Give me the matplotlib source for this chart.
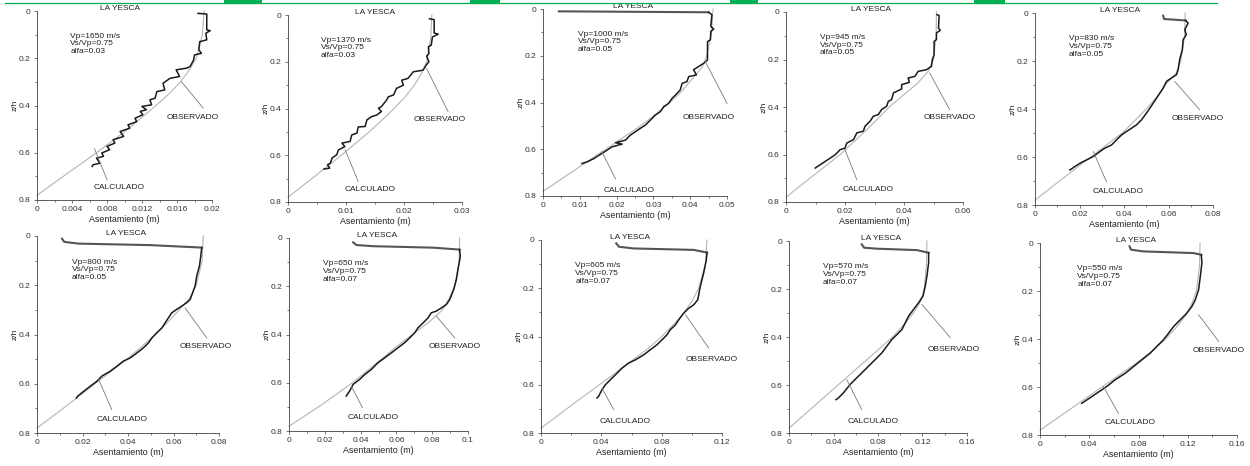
import matplotlib
matplotlib.use("Agg")
import matplotlib.pyplot as plt
from matplotlib.lines import Line2D
from matplotlib.ticker import MultipleLocator, FuncFormatter

plt.rcParams['font.family'] = ['Liberation Sans', 'DejaVu Sans']

# ---- data ----
vp = [1650, 1370, 1000, 945, 830, 800, 650, 605, 570, 550]
vs_vp = [0.75] * 10
alfa = [0.03, 0.03, 0.05, 0.05, 0.05, 0.05, 0.07, 0.07, 0.07, 0.07]
x_max = [0.02, 0.03, 0.05, 0.06, 0.08, 0.08, 0.1, 0.12, 0.16, 0.16]
x_major = [0.004, 0.01, 0.01, 0.02, 0.02, 0.02, 0.02, 0.04, 0.04, 0.04]
x_minor = [0.002, 0.005, 0.005, 0.01, 0.01, 0.01, 0.01, 0.02, 0.02, 0.02]

# calculated curves (z/h vs settlement)
calc_z = [0, 0.1, 0.2, 0.25, 0.3, 0.35, 0.4, 0.45, 0.5, 0.6, 0.7, 0.78]
calc_x1 = [0.0191, 0.0189, 0.0182, 0.0174, 0.0164, 0.0151, 0.0136, 0.0120, 0.0104, 0.0068, 0.0030, 0]
calc_x2 = [0.0248, 0.0246, 0.0239, 0.0230, 0.0218, 0.0202, 0.0183, 0.0162, 0.0140, 0.0092, 0.0041, 0]
calc_x3 = [0.0462, 0.0458, 0.0445, 0.0432, 0.0405, 0.0378, 0.0345, 0.0306, 0.0265, 0.0170, 0.0076, 0]
calc_x4 = [0.0510, 0.0509, 0.0500, 0.0482, 0.0446, 0.0398, 0.0350, 0.0311, 0.0270, 0.0184, 0.0081, 0]
calc_x5 = [0.0675, 0.0672, 0.0655, 0.0635, 0.0585, 0.0548, 0.0500, 0.0447, 0.0392, 0.0250, 0.0110, 0]
calc_x6 = [0.0731, 0.0726, 0.0700, 0.0672, 0.0625, 0.0575, 0.0520, 0.0459, 0.0395, 0.0255, 0.0115, 0]
calc_x7 = [0.0953, 0.0950, 0.0925, 0.0895, 0.0855, 0.0780, 0.0690, 0.0600, 0.0520, 0.0355, 0.0165, 0]
calc_x8 = [0.1100, 0.1090, 0.1045, 0.1005, 0.0950, 0.0880, 0.0800, 0.0711, 0.0603, 0.0387, 0.0170, 0]
calc_x9 = [0.1240, 0.1235, 0.1215, 0.1185, 0.1120, 0.1030, 0.0930, 0.0810, 0.0686, 0.0441, 0.0196, 0]
calc_x10 = [0.1300, 0.1295, 0.1270, 0.1235, 0.1185, 0.1110, 0.1020, 0.0910, 0.0784, 0.0504, 0.0224, 0]

# observed curves
obs_x1 = [0.0184, 0.0194, 0.0194, 0.0198, 0.0193, 0.0194, 0.0186, 0.0185, 0.0188, 0.0180,
          0.0179, 0.0175, 0.0171, 0.0159, 0.0163, 0.0152, 0.0144, 0.0146, 0.0137, 0.0135,
          0.0129, 0.0131, 0.0120, 0.0125, 0.0118, 0.0121, 0.0112, 0.0114, 0.0104, 0.0106,
          0.0095, 0.0099, 0.0087, 0.0089, 0.0080, 0.0083, 0.0074, 0.0076, 0.0068, 0.0072,
          0.0064, 0.0063]
obs_z1 = [0.010, 0.013, 0.080, 0.083, 0.094, 0.122, 0.130, 0.165, 0.179, 0.186,
          0.207, 0.235, 0.242, 0.249, 0.277, 0.285, 0.306, 0.334, 0.341, 0.369,
          0.376, 0.397, 0.404, 0.418, 0.425, 0.439, 0.454, 0.468, 0.482, 0.496,
          0.510, 0.531, 0.545, 0.559, 0.573, 0.587, 0.601, 0.615, 0.623, 0.644,
          0.651, 0.658]

obs_x2 = [0.0244, 0.0252, 0.0252, 0.0259, 0.0249, 0.0247, 0.0242, 0.0243, 0.0239, 0.0243,
          0.0238, 0.0233, 0.0216, 0.0207, 0.0196, 0.0199, 0.0187, 0.0182, 0.0173, 0.0170,
          0.0161, 0.0156, 0.0161, 0.0153, 0.0144, 0.0136, 0.0133, 0.0121, 0.0119, 0.0110,
          0.0107, 0.0093, 0.0098, 0.0087, 0.0084, 0.0076, 0.0073, 0.0068, 0.0072, 0.0062]
obs_z2 = [0.016, 0.020, 0.077, 0.082, 0.094, 0.129, 0.136, 0.165, 0.176, 0.200,
          0.215, 0.236, 0.243, 0.271, 0.279, 0.300, 0.314, 0.342, 0.350, 0.364,
          0.392, 0.399, 0.413, 0.428, 0.435, 0.449, 0.477, 0.479, 0.505, 0.513,
          0.541, 0.548, 0.563, 0.577, 0.598, 0.612, 0.634, 0.641, 0.655, 0.659]

obs_x3 = [0.0450, 0.0459, 0.0456, 0.0464, 0.0456, 0.0455, 0.0447, 0.0447, 0.0437, 0.0423,
          0.0409, 0.0417, 0.0396, 0.0391, 0.0378, 0.0373, 0.0360, 0.0351, 0.0341, 0.0328,
          0.0319, 0.0305, 0.0292, 0.0278, 0.0264, 0.0251, 0.0237, 0.0224, 0.0197, 0.0215,
          0.0187, 0.0174, 0.0160, 0.0138, 0.0120, 0.0106]
obs_z3 = [0.014, 0.024, 0.074, 0.086, 0.096, 0.132, 0.139, 0.218, 0.232, 0.246,
          0.260, 0.282, 0.289, 0.311, 0.318, 0.346, 0.368, 0.382, 0.404, 0.418,
          0.439, 0.454, 0.475, 0.497, 0.511, 0.525, 0.540, 0.561, 0.572, 0.578,
          0.590, 0.604, 0.618, 0.640, 0.654, 0.661]

obs_x4 = [0.0512, 0.0519, 0.0517, 0.0523, 0.0510, 0.0510, 0.0502, 0.0502, 0.0496, 0.0493,
          0.0476, 0.0448, 0.0437, 0.0414, 0.0418, 0.0392, 0.0392, 0.0364, 0.0358, 0.0347,
          0.0341, 0.0324, 0.0313, 0.0296, 0.0285, 0.0268, 0.0262, 0.0240, 0.0229, 0.0206,
          0.0200, 0.0183, 0.0167, 0.0150, 0.0133, 0.0116, 0.0099]
obs_z4 = [0.011, 0.015, 0.067, 0.077, 0.088, 0.116, 0.124, 0.180, 0.201, 0.229,
          0.243, 0.250, 0.271, 0.278, 0.296, 0.306, 0.324, 0.341, 0.369, 0.376,
          0.397, 0.411, 0.432, 0.439, 0.460, 0.481, 0.502, 0.509, 0.537, 0.552,
          0.573, 0.580, 0.601, 0.615, 0.629, 0.643, 0.657]

obs_x5 = [0.0677, 0.0688, 0.0673, 0.0680, 0.0666, 0.0662, 0.0650, 0.0643, 0.0636, 0.0613,
          0.0591, 0.0576, 0.0561, 0.0546, 0.0531, 0.0516, 0.0501, 0.0479, 0.0456, 0.0434,
          0.0411, 0.0389, 0.0366, 0.0344, 0.0314, 0.0292, 0.0262, 0.0232, 0.0202, 0.0179,
          0.0157]
obs_z5 = [0.031, 0.042, 0.070, 0.090, 0.111, 0.153, 0.195, 0.237, 0.257, 0.271,
          0.285, 0.313, 0.334, 0.355, 0.376, 0.397, 0.417, 0.445, 0.466, 0.480,
          0.494, 0.508, 0.529, 0.550, 0.563, 0.577, 0.598, 0.612, 0.626, 0.640,
          0.654]

obs_x6 = [0.0724, 0.0720, 0.0714, 0.0702, 0.0695, 0.0684, 0.0673, 0.0658, 0.0636, 0.0614,
          0.0592, 0.0578, 0.0563, 0.0549, 0.0527, 0.0505, 0.0490, 0.0468, 0.0439, 0.0410,
          0.0380, 0.0351, 0.0322, 0.0285, 0.0263, 0.0234, 0.0205, 0.0178, 0.0173]
obs_z6 = [0.047, 0.081, 0.122, 0.163, 0.203, 0.231, 0.258, 0.271, 0.285, 0.298,
          0.312, 0.332, 0.353, 0.373, 0.393, 0.414, 0.434, 0.454, 0.475, 0.495,
          0.508, 0.529, 0.549, 0.569, 0.590, 0.610, 0.631, 0.651, 0.658]

obs_x7 = [0.0953, 0.0957, 0.0944, 0.0935, 0.0920, 0.0898, 0.0879, 0.0851, 0.0823, 0.0795,
          0.0777, 0.0749, 0.0721, 0.0702, 0.0674, 0.0646, 0.0609, 0.0572, 0.0534, 0.0497,
          0.0460, 0.0423, 0.0395, 0.0358, 0.0339, 0.0320]
obs_z7 = [0.048, 0.076, 0.131, 0.172, 0.214, 0.255, 0.276, 0.290, 0.303, 0.310,
          0.331, 0.352, 0.372, 0.393, 0.414, 0.434, 0.455, 0.476, 0.497, 0.517,
          0.545, 0.566, 0.586, 0.607, 0.634, 0.655]

obs_x8 = [0.1101, 0.1096, 0.1078, 0.1056, 0.1039, 0.1012, 0.0979, 0.0946, 0.0913, 0.0891,
          0.0857, 0.0835, 0.0802, 0.0769, 0.0725, 0.0681, 0.0625, 0.0581, 0.0537, 0.0493,
          0.0460, 0.0427, 0.0404, 0.0382, 0.0371]
obs_z8 = [0.052, 0.083, 0.138, 0.193, 0.248, 0.269, 0.283, 0.303, 0.331, 0.352,
          0.372, 0.393, 0.414, 0.434, 0.455, 0.476, 0.497, 0.510, 0.531, 0.559,
          0.579, 0.600, 0.621, 0.648, 0.655]

obs_x9 = [0.1255, 0.1255, 0.1240, 0.1225, 0.1204, 0.1165, 0.1120, 0.1075, 0.1045, 0.1015,
          0.0970, 0.0925, 0.0880, 0.0835, 0.0775, 0.0714, 0.0654, 0.0594, 0.0549, 0.0489,
          0.0444, 0.0423]
obs_z9 = [0.049, 0.090, 0.146, 0.188, 0.230, 0.257, 0.285, 0.313, 0.341, 0.369,
          0.390, 0.410, 0.438, 0.466, 0.494, 0.522, 0.550, 0.577, 0.598, 0.633,
          0.654, 0.661]

obs_x10 = [0.1310, 0.1315, 0.1302, 0.1288, 0.1261, 0.1234, 0.1193, 0.1139, 0.1085, 0.1044,
           0.1003, 0.0949, 0.0895, 0.0827, 0.0759, 0.0692, 0.0610, 0.0542, 0.0461, 0.0380,
           0.0339]
obs_z10 = [0.049, 0.083, 0.139, 0.195, 0.237, 0.264, 0.292, 0.320, 0.348, 0.376,
           0.403, 0.431, 0.459, 0.487, 0.515, 0.543, 0.570, 0.598, 0.626, 0.654,
           0.668]

# hook at the top of the observed record (empty where there is none)
hook_x = [[], [], [0.0043, 0.0450], [], [0.0576, 0.0580, 0.0677],
          [0.0110, 0.0120, 0.0183, 0.0497, 0.0724],
          [0.0358, 0.0376, 0.0469, 0.0804, 0.0953],
          [0.0499, 0.0517, 0.0614, 0.1012, 0.1101],
          [0.0654, 0.0675, 0.0790, 0.1150, 0.1255],
          [0.0727, 0.0740, 0.0841, 0.1247, 0.1310]]
hook_z = [[], [], [0.010, 0.014], [], [0.011, 0.025, 0.031],
          [0.011, 0.024, 0.031, 0.037, 0.047],
          [0.018, 0.029, 0.034, 0.040, 0.048],
          [0.014, 0.028, 0.035, 0.041, 0.052],
          [0.014, 0.028, 0.032, 0.038, 0.049],
          [0.014, 0.028, 0.035, 0.042, 0.049]]

calc_x = [calc_x1, calc_x2, calc_x3, calc_x4, calc_x5, calc_x6, calc_x7, calc_x8, calc_x9, calc_x10]
obs_x = [obs_x1, obs_x2, obs_x3, obs_x4, obs_x5, obs_x6, obs_x7, obs_x8, obs_x9, obs_x10]
obs_z = [obs_z1, obs_z2, obs_z3, obs_z4, obs_z5, obs_z6, obs_z7, obs_z8, obs_z9, obs_z10]

# ---- layout: axes boxes in pixels (left, right, top, bottom) ----
boxes = [(37, 212, 11, 200), (288, 462, 15, 202), (543, 727, 9, 196), (786, 963, 12, 202),
         (1035, 1213, 13, 205), (37, 219, 236, 433), (289, 468, 238, 431), (541, 722, 240, 433),
         (789, 967, 241, 433), (1040, 1237, 243, 435)]
title_xf = [0.474, 0.5, 0.49, 0.48, 0.477, 0.49, 0.49, 0.49, 0.52, 0.49]

# leader lines and labels (data coords): start, end, text
obs_lead = [((0.0165, 0.299), (0.0190, 0.411), (0.0178, 0.449)),
            ((0.0239, 0.229), (0.0276, 0.413), (0.0262, 0.446)),
            ((0.0441, 0.225), (0.0500, 0.404), (0.0450, 0.464)),
            ((0.0487, 0.257), (0.0555, 0.411), (0.0555, 0.446)),
            ((0.0628, 0.285), (0.0740, 0.403), (0.0733, 0.441)),
            ((0.0651, 0.292), (0.0746, 0.414), (0.0742, 0.447)),
            ((0.0823, 0.324), (0.0926, 0.414), (0.0926, 0.448)),
            ((0.0958, 0.310), (0.1112, 0.448), (0.1134, 0.497)),
            ((0.1195, 0.264), (0.1450, 0.403), (0.1480, 0.452)),
            ((0.1288, 0.299), (0.1451, 0.410), (0.1451, 0.448))]
calc_lead = [((0.00657, 0.583), (0.0080, 0.714), (0.0094, 0.749)),
             ((0.00985, 0.577), (0.0121, 0.712), (0.0141, 0.747)),
             ((0.0160, 0.611), (0.0197, 0.726), (0.0233, 0.776)),
             ((0.0200, 0.580), (0.0240, 0.706), (0.0279, 0.748)),
             ((0.0262, 0.577), (0.0321, 0.703), (0.0374, 0.744)),
             ((0.0271, 0.583), (0.0329, 0.705), (0.0373, 0.746)),
             ((0.0348, 0.614), (0.0410, 0.703), (0.0469, 0.745)),
             ((0.0404, 0.614), (0.0482, 0.703), (0.0559, 0.752)),
             ((0.0519, 0.577), (0.0654, 0.703), (0.0753, 0.751)),
             ((0.0515, 0.598), (0.0637, 0.710), (0.0732, 0.749))]

W, H = 1250, 466
fig = plt.figure(figsize=(12.5, 4.66), dpi=100)
fs = 6.0
fmt = FuncFormatter(lambda v, p: f"{v:g}")

for i in range(10):
    l, r, t, b = boxes[i]
    ax = fig.add_axes([l / W, 1 - b / H, (r - l) / W, (b - t) / H])
    ax.set_xlim(0, x_max[i])
    ax.set_ylim(0.8, 0)
    for s in ['top', 'right']:
        ax.spines[s].set_visible(False)
    for s in ['left', 'bottom']:
        ax.spines[s].set_linewidth(0.6)
        ax.spines[s].set_color('#404040')
    ax.xaxis.set_major_locator(MultipleLocator(x_major[i]))
    ax.xaxis.set_minor_locator(MultipleLocator(x_minor[i]))
    ax.yaxis.set_major_locator(MultipleLocator(0.2))
    ax.yaxis.set_minor_locator(MultipleLocator(0.1))
    ax.xaxis.set_major_formatter(fmt)
    ax.yaxis.set_major_formatter(fmt)
    ax.tick_params(which='major', length=2.5, width=0.5, pad=2, labelsize=fs,
                   color='#404040', labelcolor='#333333')
    ax.tick_params(which='minor', length=1.5, width=0.5, color='#404040')
    ax.set_xlabel('Asentamiento (m)', fontsize=fs + 0.4, labelpad=1, color='#222222')
    ax.set_ylabel('z/h', fontsize=fs, labelpad=0.5, color='#222222')

    ax.plot(calc_x[i], calc_z, color='#b5b5b5', lw=0.8, clip_on=False)
    if hook_x[i]:
        ax.plot(hook_x[i], hook_z[i], color='#555555', lw=1.5, clip_on=False)
    ax.plot(obs_x[i], obs_z[i], color='#1a1a1a', lw=1.1, clip_on=False)

    for (p0, p1, pt), lab in [(obs_lead[i], 'OBSERVADO'), (calc_lead[i], 'CALCULADO')]:
        ax.plot([p0[0], p1[0]], [p0[1], p1[1]], color='#7a7a7a', lw=0.6, clip_on=False)
        ax.text(pt[0], pt[1], lab, fontsize=fs, ha='center', va='center', color='#222222')

    ax.annotate('LA YESCA', xy=(title_xf[i], 1), xycoords='axes fraction',
                xytext=(0, 1.5), textcoords='offset points',
                ha='center', va='center', fontsize=fs, color='#222222')
    ax.text(0.19, 0.885, f"Vp={vp[i]} m/s\nVs/Vp={vs_vp[i]}\nalfa={alfa[i]}",
            transform=ax.transAxes, fontsize=fs, va='top', ha='left',
            linespacing=1.15, color='#222222')

# green page marks on top edge
fig.add_artist(Line2D([5 / W, 1217 / W], [1 - 2.5 / H, 1 - 2.5 / H],
                      color='#00b050', lw=0.9))
for x0, x1 in [(224, 262), (470, 500), (730, 758), (974, 1005)]:
    fig.add_artist(Line2D([x0 / W, x1 / W], [1 - 2 / H, 1 - 2 / H],
                          color='#00b050', lw=3, solid_capstyle='butt'))

fig.savefig('out.png', dpi=100, facecolor='white')
